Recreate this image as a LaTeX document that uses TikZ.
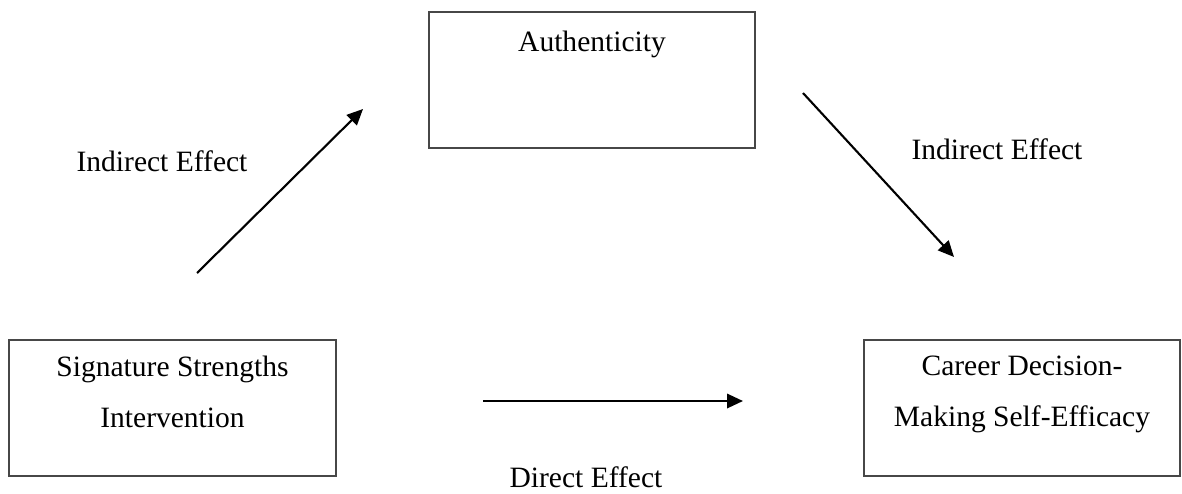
\documentclass[tikz,border=0pt]{standalone}
\usepackage{fontspec}
\setmainfont{Liberation Serif}
\usepackage{tikz}
\usetikzlibrary{arrows.meta,positioning}

\begin{document}
\begin{tikzpicture}[x=0.025cm,y=-0.025cm,>={Triangle[length=0.4cm,width=0.36cm]}]
		\tikzstyle{box}=[rectangle, draw=black!72, line width=1.4pt, minimum height=3.4cm, inner sep=0pt]
		\tikzstyle{txt}=[inner sep=0pt, align=center, font=\fontsize{21pt}{36.3pt}\selectfont]
		\tikzstyle{effect}=[->, line width=1.5pt, black]

		\useasboundingbox (0,0) rectangle (1182,493);

		\node [box, minimum width=8.15cm] (auth) at (592,80) {};
		\node [box, minimum width=8.175cm] (sig) at (172.5,408) {};
		\node [box, minimum width=7.9cm] (cdse) at (1022,408) {};

		\node [txt, anchor=base] (authtxt) at ([yshift=-1cm]auth.north) {Authenticity};
		\node [txt, anchor=north] (sigtxt) at ([yshift=-0.42cm]sig.north) {Signature Strengths\\Intervention};
		\node [txt, anchor=north] (cdsetxt) at ([yshift=-0.42cm]cdse.north) {Career Decision-\\Making Self-Efficacy};

		\coordinate (ind1a) at (197,273);
		\coordinate (ind1b) at (363,109);
		\coordinate (ind2a) at (803,93);
		\coordinate (ind2b) at (954,257);
		\coordinate (dira) at (483,401);
		\coordinate (dirb) at (743,401);

		\draw [effect] (ind1a) -- (ind1b);
		\draw [effect] (ind2a) -- (ind2b);
		\draw [effect] (dira) -- (dirb);

		\node [txt, anchor=base] (ind1lbl) at (162,171) {Indirect Effect};
		\node [txt, anchor=base] (ind2lbl) at (997,159) {Indirect Effect};
		\node [txt, anchor=base] (dirlbl) at (586,487) {Direct Effect};
	\end{tikzpicture}
\end{document}
